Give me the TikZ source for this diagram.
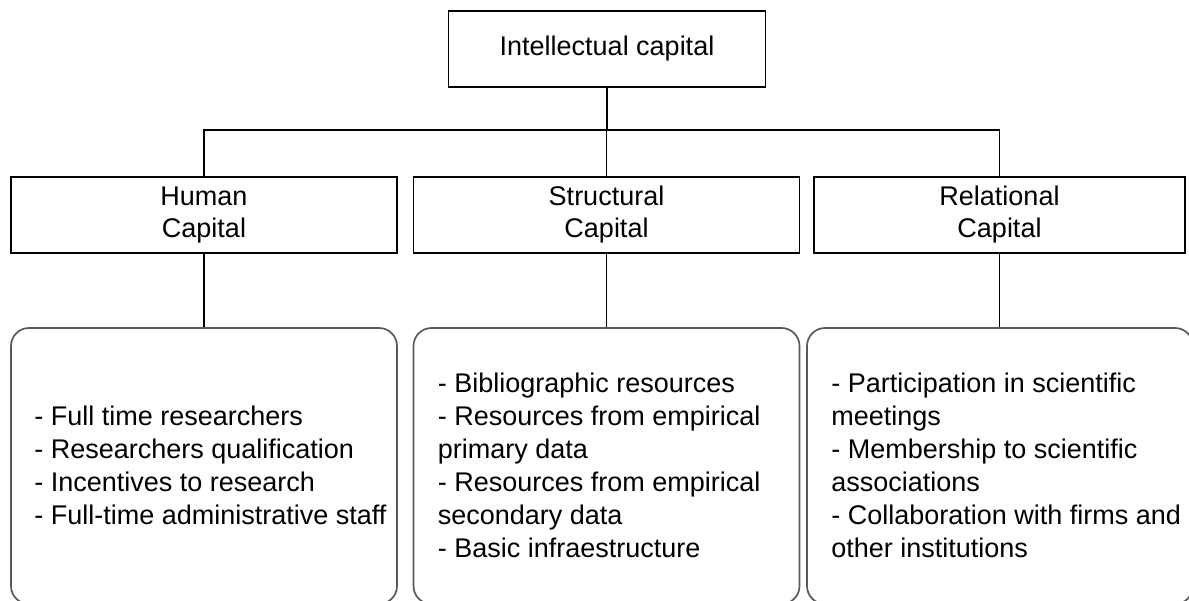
\documentclass[tikz,border=0pt]{standalone}
\usepackage{fontspec}
\setmainfont{Liberation Sans}
\begin{document}
\begin{tikzpicture}[x=1pt,y=-1pt,
  box/.style={draw=black, line width=1.5pt, minimum height=76pt, inner sep=0pt,
    align=center, font=\fontsize{27}{32}\selectfont},
  panel/.style={draw=black!65, line width=1.7pt, rounded corners=18pt,
    minimum width=386pt, minimum height=276pt, inner sep=0pt},
  items/.style={anchor=west, align=left, inner sep=0pt, font=\fontsize{27}{33}\selectfont},
  link/.style={draw=black, line width=1.4pt}]
\useasboundingbox (0,0) rectangle (1189,601);

% top level
\node[box, minimum width=317pt] (ic) at (607,49) {Intellectual capital};

% the three components
\node[box, minimum width=386pt] (hc) at (204,215) {Human\\Capital};
\node[box, minimum width=386pt] (sc) at (606.5,215) {Structural\\Capital};
\node[box, minimum width=371pt] (rc) at (999.5,215) {Relational\\Capital};

% indicator panels
\node[panel] (hp) at (204,466) {};
\node[panel] (sp) at (606.5,466) {};
\node[panel] (rp) at (1000,466) {};

\node[items] (hl) at ([xshift=24pt,yshift=1pt]hp.west)
  {- Full time researchers\\- Researchers qualification\\- Incentives to research\\- Full-time administrative staff};
\node[items] (sl) at ([xshift=25pt,yshift=1pt]sp.west)
  {- Bibliographic resources\\- Resources from empirical\\primary data\\- Resources from empirical\\secondary data\\- Basic infraestructure};
\node[items] (rl) at ([xshift=25pt,yshift=1pt]rp.west)
  {- Participation in scientific\\meetings\\- Membership to scientific\\associations\\- Collaboration with firms and\\other institutions};

% tree connectors
\coordinate (bus) at (607,130);
\draw[link] (ic.south) -- (bus);
\draw[link] (hc.north) |- (bus) -| (rc.north);
\draw[link] (sc.north) -- (sc.north |- bus);
\draw[link] (hc.south) -- (hp.north);
\draw[link] (sc.south) -- (sp.north);
\draw[link] (rc.south) -- (rc.south |- rp.north);
\end{tikzpicture}
\end{document}
